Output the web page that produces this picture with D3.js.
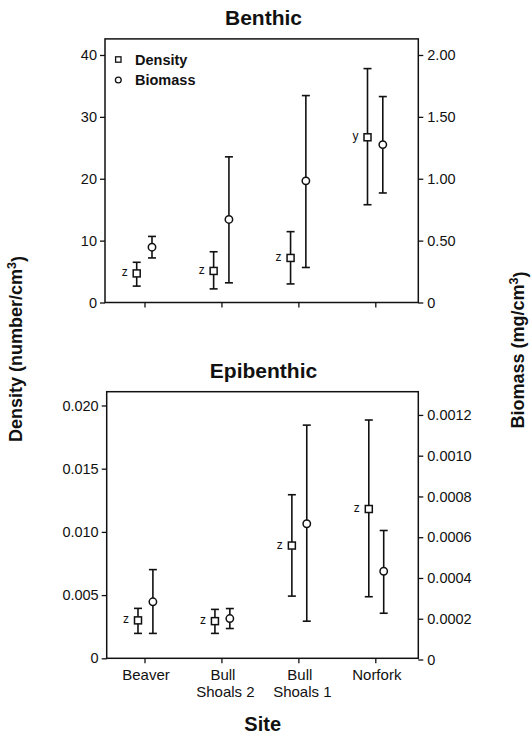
<!DOCTYPE html>
<html><head><meta charset="utf-8">
<script src="https://cdn.jsdelivr.net/npm/d3@7"></script>
<style>body{margin:0;background:#fff}svg{display:block}text{font-family:"Liberation Sans",Arial,Helvetica,sans-serif;fill:#111}</style>
</head><body><svg id="c" width="531" height="736"></svg>
<script>
const sites = ["Beaver", "Bull Shoals 2", "Bull Shoals 1", "Norfork"];
const siteLines = [["Beaver"], ["Bull", "Shoals 2"], ["Bull", "Shoals 1"], ["Norfork"]];

const benthicDensity   = [4.7, 5.1, 7.2, 26.7];
const benthicDensityLo = [2.65, 2.2, 3.0, 15.8];
const benthicDensityHi = [6.5, 8.2, 11.45, 37.8];
const benthicBiomass   = [0.447, 0.671, 0.983, 1.276];
const benthicBiomassLo = [0.360, 0.159, 0.283, 0.885];
const benthicBiomassHi = [0.534, 1.177, 1.672, 1.664];
const benthicLetters   = ["z", "z", "z", "y"];

const epiDensity   = [0.0030, 0.00294, 0.00892, 0.01181];
const epiDensityLo = [0.00197, 0.00197, 0.00492, 0.00487];
const epiDensityHi = [0.00395, 0.00387, 0.01294, 0.01885];
const epiBiomass   = [0.000283, 0.000201, 0.000666, 0.000433];
const epiBiomassLo = [0.000128, 0.000152, 0.000188, 0.000227];
const epiBiomassHi = [0.000441, 0.000250, 0.001150, 0.000633];
const epiLetters   = ["z", "z", "z", "z"];

const benthicLeftTicks  = [0, 10, 20, 30, 40];
const benthicRightTicks = [0, 0.5, 1.0, 1.5, 2.0];
const epiLeftTicks  = [0, 0.005, 0.010, 0.015, 0.020];
const epiRightTicks = [0, 0.0002, 0.0004, 0.0006, 0.0008, 0.0010, 0.0012];

const svg = d3.select("#c");

function panel(cfg) {
  const g = svg.append("g");
  const x = d3.scalePoint().domain(sites).range([144.5, 375.3]);
  const yL = d3.scaleLinear().domain(cfg.leftDomain).range(cfg.leftRange);
  const yR = d3.scaleLinear().domain(cfg.rightDomain).range(cfg.rightRange);
  const L = cfg.box[0], R = cfg.box[1], T = cfg.box[2], B = cfg.box[3];

  g.append("rect").attr("x", L).attr("y", T).attr("width", R - L).attr("height", B - T)
    .attr("fill", "none").attr("stroke", "#111").attr("stroke-width", 1.5);

  const ax = g.append("g").attr("transform", `translate(${L},0)`)
    .call(d3.axisLeft(yL).tickValues(cfg.leftTicks).tickSize(5).tickPadding(3).tickFormat(cfg.leftFmt));
  ax.select(".domain").remove();
  ax.selectAll("line").attr("stroke", "#111").attr("stroke-width", 1.3);
  ax.selectAll("text").style("font-size", "14.5px").attr("fill", "#111");

  const ar = g.append("g").attr("transform", `translate(${R},0)`)
    .call(d3.axisRight(yR).tickValues(cfg.rightTicks).tickSize(5).tickPadding(4).tickFormat(cfg.rightFmt));
  ar.select(".domain").remove();
  ar.selectAll("line").attr("stroke", "#111").attr("stroke-width", 1.3);
  ar.selectAll("text").style("font-size", "14.5px").attr("fill", "#111");

  const axb = g.append("g").attr("transform", `translate(0,${B})`)
    .call(d3.axisBottom(x).tickSize(5).tickFormat(""));
  axb.select(".domain").remove();
  axb.selectAll("line").attr("stroke", "#111").attr("stroke-width", 1.3);

  if (cfg.labels) {
    siteLines.forEach((lines, i) => {
      const t = g.append("text").attr("text-anchor", "middle").style("font-size", "15px");
      lines.forEach((ln, j) => {
        t.append("tspan").attr("x", x(sites[i]) + 1.5 + (j ? 2.5 : 0)).attr("y", B + 22 + j * 17).text(ln);
      });
    });
  }

  function series(vals, lo, hi, y, dx, shape) {
    sites.forEach((s, i) => {
      const cx = x(s) + dx;
      g.append("line").attr("x1", cx).attr("x2", cx).attr("y1", y(lo[i])).attr("y2", y(hi[i]))
        .attr("stroke", "#111").attr("stroke-width", 1.6);
      [lo[i], hi[i]].forEach(v => g.append("line").attr("x1", cx - 4).attr("x2", cx + 4)
        .attr("y1", y(v)).attr("y2", y(v)).attr("stroke", "#111").attr("stroke-width", 1.6));
      if (shape === "sq") {
        g.append("rect").attr("x", cx - 3.5).attr("y", y(vals[i]) - 3.5).attr("width", 7).attr("height", 7)
          .attr("fill", "#fff").attr("stroke", "#111").attr("stroke-width", 1.5);
      } else {
        g.append("circle").attr("cx", cx).attr("cy", y(vals[i])).attr("r", 3.7)
          .attr("fill", "#fff").attr("stroke", "#111").attr("stroke-width", 1.5);
      }
    });
  }
  series(cfg.dens, cfg.densLo, cfg.densHi, yL, cfg.dOff, "sq");
  series(cfg.bio, cfg.bioLo, cfg.bioHi, yR, cfg.bOff, "ci");

  sites.forEach((s, i) => {
    g.append("text").attr("x", x(s) + cfg.dOff - 12).attr("y", yL(cfg.dens[i]) + 3)
      .attr("text-anchor", "middle").style("font-size", "12px").attr("fill", "#222").text(cfg.letters[i]);
  });

  g.append("text").attr("x", 263.5).attr("y", cfg.titleY).attr("text-anchor", "middle")
    .style("font-size", "21px").style("font-weight", "bold").text(cfg.title);
}

const fmtZero = f => v => v === 0 ? "0" : d3.format(f)(v);

panel({
  title: "Benthic", titleY: 25,
  box: [105, 418.3, 38.9, 302.5],
  leftDomain: [0, 42.6], leftRange: [302.5, 38.9],
  rightDomain: [0, 2.13], rightRange: [302.5, 38.9],
  leftTicks: benthicLeftTicks, rightTicks: benthicRightTicks,
  leftFmt: fmtZero("d"), rightFmt: fmtZero(".2f"),
  dens: benthicDensity, densLo: benthicDensityLo, densHi: benthicDensityHi,
  bio: benthicBiomass, bioLo: benthicBiomassLo, bioHi: benthicBiomassHi,
  letters: benthicLetters, dOff: -7.8, bOff: 7.5, labels: false
});

panel({
  title: "Epibenthic", titleY: 377.5,
  box: [106.7, 418.3, 391.7, 658.3],
  leftDomain: [0, 0.02109], leftRange: [658.3, 391.7],
  rightDomain: [0, 0.001314], rightRange: [659.5, 391.7],
  leftTicks: epiLeftTicks, rightTicks: epiRightTicks,
  leftFmt: fmtZero(".3f"), rightFmt: fmtZero(".4f"),
  dens: epiDensity, densLo: epiDensityLo, densHi: epiDensityHi,
  bio: epiBiomass, bioLo: epiBiomassLo, bioHi: epiBiomassHi,
  letters: epiLetters, dOff: -6.5, bOff: 8.4, labels: true
});

const lg = svg.append("g");
lg.append("rect").attr("x", 118.3 - 2.7).attr("y", 59.5 - 2.7).attr("width", 5.4).attr("height", 5.4)
  .attr("fill", "#fff").attr("stroke", "#111").attr("stroke-width", 1.3);
lg.append("text").attr("x", 135).attr("y", 64.5).style("font-size", "14.5px").style("font-weight", "bold").text("Density");
lg.append("circle").attr("cx", 118.3).attr("cy", 80).attr("r", 2.9)
  .attr("fill", "#fff").attr("stroke", "#111").attr("stroke-width", 1.3);
lg.append("text").attr("x", 135).attr("y", 84.7).style("font-size", "14.5px").style("font-weight", "bold").text("Biomass");

function rotLabel(x, y, main, sup, tail) {
  const t = svg.append("text").attr("transform", `translate(${x},${y}) rotate(-90)`)
    .attr("text-anchor", "middle").style("font-size", "18px").style("font-weight", "bold");
  t.append("tspan").text(main);
  t.append("tspan").attr("dy", "-0.45em").style("font-size", "12.5px").text(sup);
  t.append("tspan").attr("dy", "0.45em").text(tail);
}
rotLabel(22, 349, "Density (number/cm", "3", ")");
rotLabel(524, 350, "Biomass (mg/cm", "3", ")");

svg.append("text").attr("x", 262.7).attr("y", 731).attr("text-anchor", "middle")
  .style("font-size", "20px").style("font-weight", "bold").text("Site");
</script></body></html>
